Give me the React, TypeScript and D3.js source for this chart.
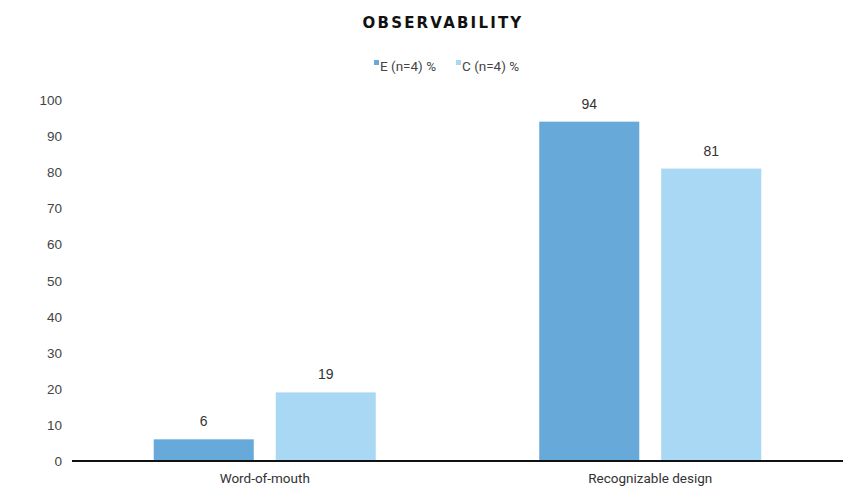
import React from "react";
import * as d3 from "d3";

const categories = ["Word-of-mouth", "Recognizable design"];
const seriesNames = ["E (n=4) %", "C (n=4) %"];
const seriesE = [6, 94];
const seriesC = [19, 81];
const yTicks = [0, 10, 20, 30, 40, 50, 60, 70, 80, 90, 100];
const colors = ["#67AADA", "#A9D8F4"];

const W = 843;
const H = 489;
const plotLeft = 72;
const plotRight = 843;
const plotTop = 100;
const plotBottom = 461;

export default function App() {
  const x = d3.scaleBand<string>().domain(categories).range([plotLeft, plotRight]);
  const inner = d3
    .scaleBand<string>()
    .domain(seriesNames)
    .range([0, x.bandwidth()])
    .paddingInner(0.18)
    .paddingOuter(0.67);
  const y = d3.scaleLinear().domain([0, 100]).range([plotBottom, plotTop]);
  const series = [seriesE, seriesC];
  const narrow = "'Liberation Sans Narrow', 'Roboto', sans-serif";

  return (
    <svg
      width={W}
      height={H}
      style={{ position: "absolute", left: 0, top: 0, background: "#fff" }}
    >
      <text
        x={443}
        y={28}
        textAnchor="middle"
        fontFamily="'DejaVu Sans', sans-serif"
        fontWeight="bold"
        fontSize={15}
        letterSpacing={2.2}
        fill="#111"
      >
        OBSERVABILITY
      </text>

      {/* legend */}
      {seriesNames.map((s, i) => {
        const lx = i === 0 ? 374 : 456;
        return (
          <g key={s}>
            <rect x={lx} y={60} width={5} height={5} fill={colors[i]} />
            <text
              x={lx + 6}
              y={71}
              fontFamily={narrow}
              fontSize={13.5}
              fill="#444"
            >
              {s}
            </text>
          </g>
        );
      })}

      {/* y tick labels */}
      {yTicks.map((t) => (
        <text
          key={t}
          x={62}
          y={y(t) + 5}
          textAnchor="end"
          fontFamily="'Liberation Sans', Arial, sans-serif"
          fontSize={13.5}
          fill="#444"
        >
          {t}
        </text>
      ))}

      {/* bars */}
      {categories.map((c, ci) =>
        seriesNames.map((s, si) => {
          const v = series[si][ci];
          const bx = (x(c) ?? 0) + (inner(s) ?? 0);
          return (
            <g key={c + s}>
              <rect
                x={bx}
                y={y(v)}
                width={inner.bandwidth()}
                height={y(0) - y(v)}
                fill={colors[si]}
              />
              <text
                x={bx + inner.bandwidth() / 2}
                y={y(v) - 13}
                textAnchor="middle"
                fontFamily="'Liberation Sans', Arial, sans-serif"
                fontSize={14}
                fill="#333"
              >
                {v}
              </text>
            </g>
          );
        })
      )}

      {/* baseline */}
      <line
        x1={plotLeft}
        x2={plotRight}
        y1={y(0)}
        y2={y(0)}
        stroke="#111"
        strokeWidth={2}
      />

      {/* category labels */}
      {categories.map((c) => (
        <text
          key={c}
          x={(x(c) ?? 0) + x.bandwidth() / 2}
          y={483}
          textAnchor="middle"
          fontFamily={narrow}
          fontSize={13.5}
          fill="#333"
        >
          {c}
        </text>
      ))}
    </svg>
  );
}
